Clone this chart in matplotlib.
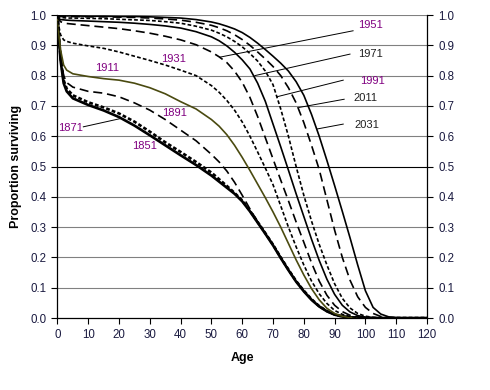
import matplotlib
matplotlib.use("Agg")
import matplotlib.pyplot as plt

plt.rcParams['font.family'] = ['Liberation Sans', 'DejaVu Sans']
plt.rcParams['lines.scale_dashes'] = False

ages = [0, 0.5, 1, 2, 3, 5, 10, 15, 20, 25, 30, 35, 40, 45,
        50, 52.5, 55, 57.5, 60, 62.5, 65, 67.5, 70, 72.5, 75, 77.5, 80, 82.5,
        85, 87.5, 90, 92.5, 95, 97.5, 100, 102.5, 105, 107.5, 110, 115, 120]

# proportion surviving by birth cohort
s1851 = [1.0, 0.92, 0.85, 0.775, 0.748, 0.725, 0.703, 0.685, 0.663, 0.635, 0.603, 0.57, 0.537, 0.505,
         0.47, 0.45, 0.43, 0.41, 0.385, 0.352, 0.315, 0.278, 0.24, 0.198, 0.158, 0.12, 0.088, 0.06,
         0.038, 0.022, 0.011, 0.005, 0.002, 0.001, 0, 0, 0, 0, 0, 0, 0]
s1871 = [1.0, 0.925, 0.86, 0.785, 0.757, 0.735, 0.712, 0.695, 0.675, 0.648, 0.615, 0.58, 0.548, 0.515,
         0.48, 0.458, 0.436, 0.413, 0.388, 0.354, 0.317, 0.28, 0.242, 0.2, 0.16, 0.122, 0.09, 0.062,
         0.039, 0.023, 0.012, 0.005, 0.002, 0.001, 0, 0, 0, 0, 0, 0, 0]
s1891 = [1.0, 0.93, 0.87, 0.8, 0.777, 0.762, 0.748, 0.742, 0.73, 0.71, 0.686, 0.655, 0.62, 0.585,
         0.54, 0.515, 0.485, 0.448, 0.405, 0.36, 0.318, 0.28, 0.241, 0.199, 0.159, 0.121, 0.089, 0.061,
         0.039, 0.022, 0.011, 0.005, 0.002, 0.001, 0, 0, 0, 0, 0, 0, 0]
s1911 = [1.0, 0.93, 0.885, 0.835, 0.818, 0.806, 0.797, 0.79, 0.785, 0.775, 0.76, 0.74, 0.714, 0.69,
         0.655, 0.633, 0.605, 0.57, 0.53, 0.487, 0.442, 0.397, 0.35, 0.3, 0.246, 0.192, 0.142, 0.097,
         0.06, 0.032, 0.015, 0.006, 0.002, 0.001, 0, 0, 0, 0, 0, 0, 0]
s1931 = [1.0, 0.96, 0.935, 0.918, 0.913, 0.907, 0.898, 0.89, 0.878, 0.864, 0.85, 0.835, 0.818, 0.80,
         0.767, 0.745, 0.718, 0.686, 0.647, 0.6, 0.548, 0.495, 0.44, 0.37, 0.3, 0.235, 0.175, 0.122,
         0.08, 0.048, 0.025, 0.012, 0.005, 0.002, 0, 0, 0, 0, 0, 0, 0]
s1951 = [1.0, 0.985, 0.978, 0.974, 0.972, 0.97, 0.965, 0.96, 0.955, 0.948, 0.94, 0.93, 0.918, 0.902,
         0.878, 0.862, 0.843, 0.815, 0.778, 0.728, 0.665, 0.595, 0.525, 0.455, 0.387, 0.317, 0.25, 0.182,
         0.122, 0.075, 0.042, 0.021, 0.009, 0.003, 0.001, 0, 0, 0, 0, 0, 0]
s1971 = [1.0, 0.988, 0.985, 0.984, 0.983, 0.982, 0.98, 0.978, 0.976, 0.973, 0.969, 0.964, 0.957, 0.945,
         0.928, 0.915, 0.898, 0.877, 0.852, 0.822, 0.775, 0.715, 0.64, 0.565, 0.488, 0.41, 0.335, 0.26,
         0.19, 0.128, 0.078, 0.042, 0.02, 0.008, 0.003, 0.001, 0, 0, 0, 0, 0]
s1991 = [1.0, 0.994, 0.992, 0.991, 0.99, 0.99, 0.989, 0.988, 0.986, 0.984, 0.982, 0.978, 0.973, 0.963,
         0.95, 0.94, 0.928, 0.913, 0.895, 0.873, 0.848, 0.815, 0.77, 0.69, 0.6, 0.5, 0.405, 0.32,
         0.243, 0.175, 0.113, 0.065, 0.033, 0.015, 0.006, 0.002, 0, 0, 0, 0, 0]
s2011 = [1.0, 0.996, 0.995, 0.995, 0.995, 0.995, 0.994, 0.994, 0.993, 0.992, 0.99, 0.987, 0.983, 0.976,
         0.966, 0.958, 0.948, 0.935, 0.919, 0.9, 0.878, 0.855, 0.83, 0.8, 0.76, 0.71, 0.645, 0.57,
         0.49, 0.39, 0.29, 0.2, 0.125, 0.07, 0.035, 0.015, 0.005, 0.001, 0, 0, 0]
s2031 = [1.0, 0.998, 0.997, 0.997, 0.997, 0.997, 0.996, 0.996, 0.995, 0.995, 0.994, 0.992, 0.99, 0.985,
         0.977, 0.971, 0.963, 0.954, 0.942, 0.926, 0.907, 0.886, 0.864, 0.841, 0.815, 0.78, 0.735, 0.672,
         0.6, 0.52, 0.437, 0.352, 0.265, 0.175, 0.09, 0.035, 0.013, 0.004, 0.001, 0, 0]

long_dash = (6.5, 3.5)
short_dash = (2.7, 1.6)
styles = [
    ('1851', s1851, 'black', 1.9, None),
    ('1871', s1871, 'black', 1.9, short_dash),
    ('1891', s1891, 'black', 1.2, long_dash),
    ('1911', s1911, '#4a4a10', 1.2, None),
    ('1931', s1931, 'black', 1.2, short_dash),
    ('1951', s1951, 'black', 1.2, long_dash),
    ('1971', s1971, 'black', 1.2, None),
    ('1991', s1991, 'black', 1.2, short_dash),
    ('2011', s2011, 'black', 1.2, long_dash),
    ('2031', s2031, 'black', 1.2, None),
]

purple = '#800080'
dark = '#202020'
# label text: (x, y, colour), leader line: (x0, y0, x1, y1)
labels = {
    '1851': (28.4, 0.568, purple, None),
    '1871': (4.4, 0.627, purple, (8.4, 0.631, 20.8, 0.659)),
    '1891': (38.1, 0.677, purple, None),
    '1911': (16.1, 0.825, purple, None),
    '1931': (37.8, 0.855, purple, None),
    '1951': (101.8, 0.967, purple, (96.0, 0.948, 52.8, 0.861)),
    '1971': (101.5, 0.871, dark, (95.0, 0.871, 64.1, 0.80)),
    '1991': (102.4, 0.782, purple, (92.8, 0.785, 71.2, 0.73)),
    '2011': (100.0, 0.726, dark, (93.1, 0.722, 78.5, 0.695)),
    '2031': (100.5, 0.637, dark, (92.8, 0.640, 84.4, 0.624)),
}

fig = plt.figure(figsize=(4.9, 3.9), dpi=100)
ax = fig.add_axes([0.1173, 0.1846, 0.7541, 0.7769])

for y in [i / 10 for i in range(1, 11)]:
    ax.axhline(y, color='black' if abs(y - 0.5) < 1e-9 else '#808080', lw=0.8, zorder=1)

for name, vals, col, lw, dash in styles:
    line, = ax.plot(ages, vals, color=col, lw=lw, zorder=3)
    if dash:
        line.set_dashes(dash)

for name, (tx, ty, col, lead) in labels.items():
    ax.text(tx, ty, name, color=col, fontsize=8, ha='center', va='center', zorder=4)
    if lead:
        ax.plot([lead[0], lead[2]], [lead[1], lead[3]], color='black', lw=0.7, zorder=4)

ax.set_xlim(0, 120)
ax.set_ylim(0, 1.0)
ax.set_xticks(range(0, 121, 10))
ax.set_yticks([i / 10 for i in range(11)])
ax.set_yticklabels(['%.1f' % (i / 10) for i in range(11)])
ax.tick_params(direction='out', length=4, width=0.8, labelsize=8.3, colors='black',
               labelcolor='#1a1a40', right=True, labelright=True, pad=4)
for side in ['left', 'bottom', 'right']:
    ax.spines[side].set_linewidth(0.9)
ax.spines['top'].set_visible(False)

ax.set_xlabel('Age', fontsize=9, fontweight='bold', labelpad=8)
ax.set_ylabel('Proportion surviving', fontsize=9, fontweight='bold', labelpad=6)

fig.savefig('out.png', dpi=100)
